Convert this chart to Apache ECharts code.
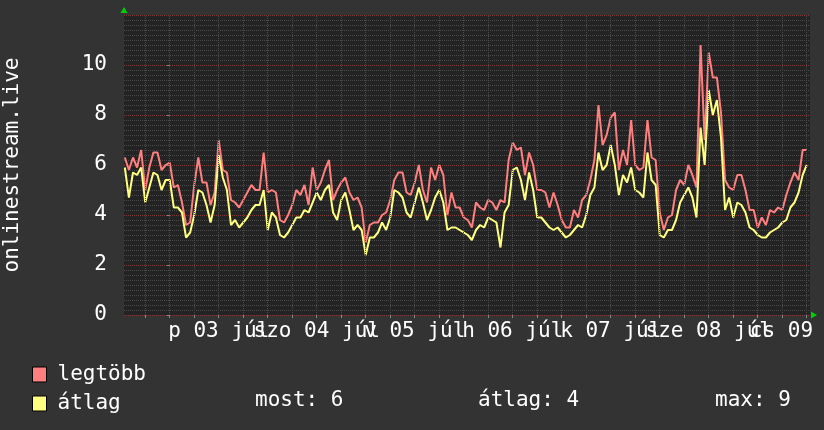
<!DOCTYPE html>
<html>
<head>
<meta charset="utf-8">
<script src="https://cdn.jsdelivr.net/npm/echarts@6/dist/echarts.min.js"></script>
<style>
  html, body { margin: 0; padding: 0; background: #333333; }
  #container { width: 824px; height: 430px; }
</style>
</head>
<body>
<div id="container"></div>
<script type="text/javascript">
    // hours counted from 03 júl 00:00, one sample per hour
    var startHour = -11;
    var viewMin = -11.2, viewMax = 156.8;

    var dayLabels = ['p 03 júl', 'szo 04 júl', 'v 05 júl', 'h 06 júl', 'k 07 júl', 'sze 08 júl', 'cs 09 júl'];
    var dayLabelHours = [12, 36, 60, 84, 108, 132, 156];

    var legtobb = [
        6.3, 5.8, 6.3, 5.9, 6.6, 5.0, 5.9, 6.5, 6.5, 5.8, 6.0,
        6.1, 5.1, 5.2, 4.5, 3.6, 3.7, 5.2, 6.3, 5.3, 5.3, 4.4, 4.9,
        7.0, 5.8, 5.7, 4.6, 4.5, 4.3, 4.6, 4.9, 5.2, 5.0, 5.0, 6.5,
        4.9, 5.0, 4.9, 3.8, 3.7, 4.0, 4.4, 5.0, 4.8, 5.2, 4.4, 5.9,
        5.0, 5.3, 5.8, 6.2, 4.6, 5.0, 5.3, 5.5, 4.9, 4.6, 4.7, 4.3,
        2.9, 3.6, 3.7, 3.7, 4.0, 4.1, 4.6, 5.4, 5.7, 5.7, 4.9, 4.8,
        5.3, 6.0, 5.0, 4.5, 5.9, 5.4, 6.0, 5.6, 4.0, 4.9, 4.3, 4.3,
        3.9, 3.8, 3.5, 4.5, 4.3, 4.2, 4.6, 4.5, 4.2, 4.6, 4.5, 6.2,
        6.9, 6.6, 6.7, 5.6, 6.5, 6.0, 5.0, 5.0, 4.9, 4.3, 4.9, 4.4,
        3.8, 3.5, 3.5, 4.2, 3.9, 4.6, 4.8, 5.4, 6.2, 8.4, 6.8, 7.2,
        7.9, 8.1, 5.8, 6.6, 6.0, 7.8, 6.0, 5.8, 5.9, 7.8, 6.3, 6.2,
        4.1, 3.4, 3.9, 4.0, 5.0, 5.4, 5.2, 6.0, 5.6, 5.1, 10.8, 7.0,
        10.5, 9.5, 9.5, 8.1, 5.4, 5.1, 5.0, 5.6, 5.6, 5.0, 4.2, 4.2,
        3.5, 3.9, 3.6, 4.2, 4.1, 4.3, 4.2, 4.8, 5.3, 5.7, 5.4, 6.6,
        6.6
    ];
    var atlag = [
        5.9, 4.7, 5.7, 5.6, 5.9, 4.5, 5.1, 5.7, 5.6, 5.0, 5.4,
        5.4, 4.3, 4.3, 4.1, 3.1, 3.3, 4.0, 5.0, 4.9, 4.4, 3.7, 4.4,
        6.4, 5.5, 5.0, 3.6, 3.8, 3.5, 3.7, 3.9, 4.2, 4.4, 4.4, 5.0,
        3.4, 4.1, 3.9, 3.2, 3.1, 3.3, 3.6, 3.9, 3.9, 4.2, 4.1, 4.5,
        4.9, 4.6, 5.0, 5.2, 4.1, 3.8, 4.6, 4.9, 4.2, 3.4, 3.6, 3.4,
        2.4, 3.1, 3.1, 3.3, 3.7, 3.4, 3.9, 5.0, 4.9, 4.7, 4.1, 3.9,
        4.5, 5.1, 4.5, 3.8, 4.2, 4.7, 5.0, 4.5, 3.4, 3.5, 3.5, 3.4,
        3.3, 3.2, 3.0, 3.4, 3.6, 3.5, 3.9, 3.8, 3.7, 2.7, 4.1, 4.4,
        5.8, 5.9, 5.4, 4.6, 5.7, 5.0, 3.9, 3.9, 3.7, 3.5, 3.4, 3.5,
        3.3, 3.1, 3.2, 3.4, 3.6, 3.5, 4.0, 4.8, 5.1, 6.5, 5.8, 6.0,
        6.8, 6.0, 4.8, 5.6, 5.3, 5.9, 5.0, 4.9, 4.7, 6.5, 5.4, 5.2,
        3.2, 3.1, 3.4, 3.4, 3.8, 4.5, 4.8, 5.1, 4.7, 3.9, 7.5, 6.0,
        9.0, 8.0, 8.6, 7.1, 4.2, 4.7, 3.9, 4.5, 4.4, 4.1, 3.5, 3.4,
        3.2, 3.1, 3.1, 3.3, 3.4, 3.5, 3.7, 3.8, 4.3, 4.5, 4.9, 5.6,
        6.0
    ];
    var statTexts = ['most: 6', 'átlag: 4', 'max: 9'];

    var font = '"DejaVu Sans Mono", monospace';

    function pairs(arr) {
        return arr.map(function (v, i) { return [startHour + i, v]; });
    }

    // vertical grid every 6 hours, red (major) at midnight
    var minorLines = [], majorLines = [];
    for (var h = -6; h <= 156; h += 6) {
        if (h % 24 === 0) majorLines.push({ xAxis: h });
        else minorLines.push({ xAxis: h });
    }
    var tickHours = minorLines.concat(majorLines).map(function (d) { return d.xAxis; });

    // labels overlap in the original, so they are split over two axes
    var labelsA = dayLabelHours.filter(function (v, i) { return i % 2 === 0; });
    var labelsB = dayLabelHours.filter(function (v, i) { return i % 2 === 1; });

    function dayFormatter(v) {
        return dayLabels[dayLabelHours.indexOf(v)] || '';
    }

    var labelStyle = { color: '#ffffff', fontFamily: font, fontSize: 21, margin: 6 };

    var dom = document.getElementById('container');
    var myChart = echarts.init(dom);

    var option = {
        backgroundColor: '#333333',
        animation: false,
        grid: {
            left: 124, right: 14, top: 15, bottom: 115,
            // let the clipped last label run past the canvas without shrinking the plot
            outerBounds: { left: -200, right: -200, top: -200, bottom: -200 },
            show: true, backgroundColor: '#232323', borderWidth: 0
        },
        legend: {
            data: ['legtöbb', 'átlag'],
            orient: 'vertical',
            left: 32, top: 364,
            padding: 0,
            itemWidth: 14, itemHeight: 15, itemGap: 8,
            icon: 'rect',
            selectedMode: false,
            itemStyle: { borderColor: '#000', borderWidth: 1 },
            textStyle: { color: '#ffffff', fontFamily: font, fontSize: 21, padding: [0, 0, 0, 6] }
        },
        graphic: [
            { type: 'text', left: 255, top: 390, style: { text: statTexts[0], fill: '#fff', font: '21px ' + font } },
            { type: 'text', left: 478, top: 390, style: { text: statTexts[1], fill: '#fff', font: '21px ' + font } },
            { type: 'text', left: 715, top: 390, style: { text: statTexts[2], fill: '#fff', font: '21px ' + font } }
        ],
        xAxis: [
            {
                type: 'value',
                position: 'bottom', offset: 0,
                min: viewMin, max: viewMax,
                axisLine: { show: false },
                axisTick: { show: true, customValues: tickHours, length: 3, lineStyle: { color: '#888' } },
                splitLine: { show: false },
                axisLabel: Object.assign({
                    customValues: labelsA, showMinLabel: true, showMaxLabel: true,
                    formatter: dayFormatter
                }, labelStyle)
            },
            {
                type: 'value',
                position: 'bottom', offset: 0,
                min: viewMin, max: viewMax,
                axisLine: { show: false },
                axisTick: { show: false },
                splitLine: { show: false },
                axisLabel: Object.assign({
                    customValues: labelsB, showMinLabel: true, showMaxLabel: true,
                    formatter: dayFormatter
                }, labelStyle)
            }
        ],
        yAxis: {
            type: 'value',
            min: 0, max: 12, interval: 2,
            name: 'onlinestream.live',
            nameLocation: 'middle', nameRotate: 90, nameGap: 101,
            nameTextStyle: { color: '#ffffff', fontFamily: font, fontSize: 21 },
            axisLine: { show: false },
            axisTick: { show: true, length: 3, lineStyle: { color: '#888' } },
            axisLabel: { color: '#ffffff', fontFamily: font, fontSize: 21, margin: 17, showMaxLabel: false },
            splitLine: { show: true, lineStyle: { color: '#803a3a', type: 'dotted', width: 1 } },
            minorTick: { show: false, splitNumber: 10 },
            minorSplitLine: { show: true, lineStyle: { color: '#4a4a4a', type: 'dotted', width: 1 } }
        },
        series: [
            {
                name: 'grid',
                type: 'line',
                data: [],
                z: 1,
                silent: true,
                markLine: {
                    silent: true, symbol: 'none', label: { show: false },
                    lineStyle: { color: '#4a4a4a', type: 'dotted', width: 1 },
                    data: minorLines
                }
            },
            {
                name: 'gridmajor',
                type: 'line',
                data: [],
                z: 1,
                silent: true,
                markLine: {
                    silent: true, symbol: 'none', label: { show: false },
                    lineStyle: { color: '#7a3838', type: 'dotted', width: 1 },
                    data: majorLines
                }
            },
            {
                name: 'legtöbb',
                type: 'line',
                xAxisIndex: 0,
                z: 3,
                showSymbol: false,
                data: pairs(legtobb),
                itemStyle: { color: '#ff7f7f' },
                lineStyle: { color: '#ff7f7f', width: 2 },
                markPoint: {
                    silent: true,
                    label: { show: false },
                    itemStyle: { color: '#00d000' },
                    data: [
                        { coord: [viewMin, 12], symbol: 'triangle', symbolSize: [7, 6], symbolOffset: [0, -5] },
                        { coord: [viewMax, 0], symbol: 'triangle', symbolRotate: -90, symbolSize: [7, 6], symbolOffset: [4, 0] }
                    ]
                }
            },
            {
                name: 'átlag',
                type: 'line',
                xAxisIndex: 0,
                z: 4,
                showSymbol: false,
                data: pairs(atlag),
                itemStyle: { color: '#ffff7f' },
                lineStyle: { color: '#ffff7f', width: 2 }
            }
        ]
    };

    if (option && typeof option === 'object') {
        myChart.setOption(option);
    }
</script>
</body>
</html>
